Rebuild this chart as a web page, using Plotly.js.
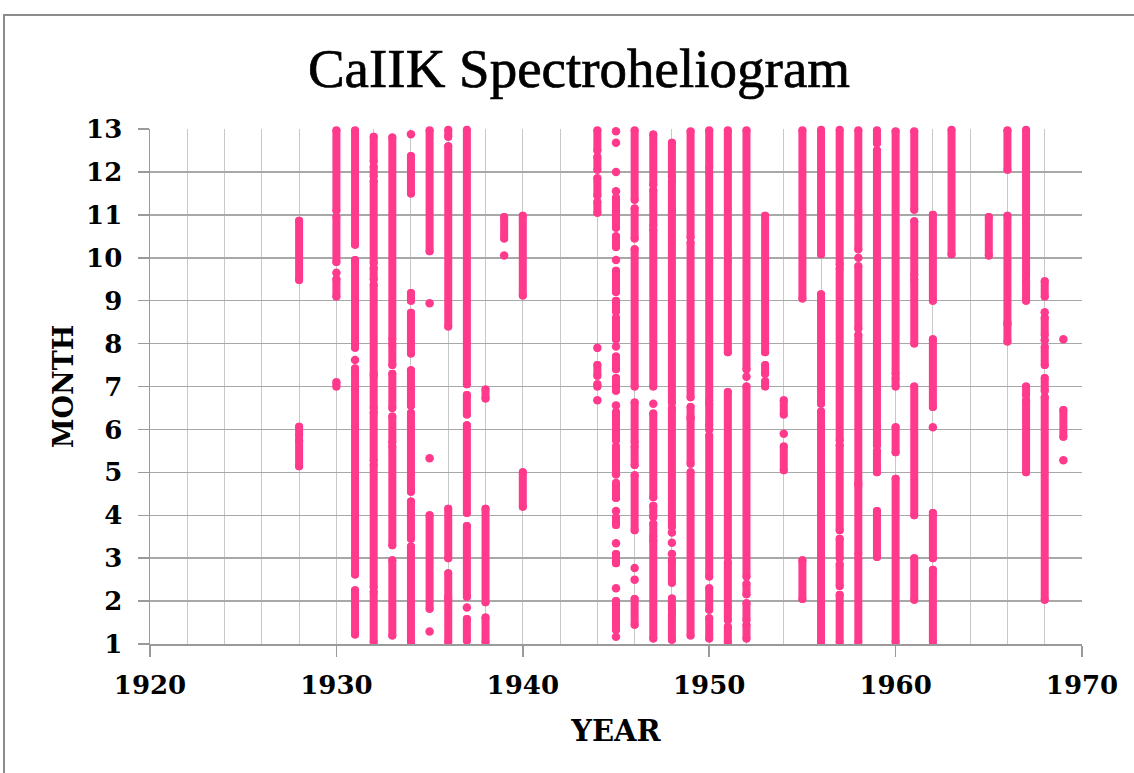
<!DOCTYPE html>
<html>
<head>
<meta charset="utf-8">
<script src="https://cdn.plot.ly/plotly-3.0.1.min.js"></script>
<style>
html, body { margin: 0; padding: 0; background: #ffffff; }
#chart { width: 1134px; height: 773px; }
.scatterlayer path.js-line { stroke-linecap: round; }
.gtitle { stroke: #000000; stroke-width: 0.7px; }
</style>
</head>
<body>
<div id="chart"></div>
<script>
// Observation coverage per year: [from, to] in month units (1 = Jan 1, 13 = end of Dec).
// Single observations are given as [v, v].
const years = [1928, 1930, 1931, 1932, 1933, 1934, 1935, 1936, 1937, 1938, 1939, 1940,
               1944, 1945, 1946, 1947, 1948, 1949, 1950, 1951, 1952, 1953, 1954, 1955,
               1956, 1957, 1958, 1959, 1960, 1961, 1962, 1963, 1965, 1966, 1967, 1968, 1969];

const y1928 = [[9.48,10.86],[5.85,6.06],[5.14,5.75]];
const y1930 = [[11.1,12.97],[9.9,10.95],[9.65,9.65],[9.1,9.5],[7.0,7.1]];
const y1931 = [[10.3,12.97],[7.9,9.95],[7.62,7.62],[2.62,7.42],[1.22,2.25]];
const y1932 = [[12.25,12.82],[11.9,12.12],[9.88,11.78],[9.5,9.76],[7.3,9.37],[6.5,7.25],[5.28,6.4],[2.33,5.18],[1.05,2.22]];
const y1933 = [[8.1,12.8],[7.5,8.0],[6.5,7.3],[5.7,6.3],[3.3,5.6],[1.2,2.95]];
const y1934 = [[12.88,12.88],[11.5,12.37],[9.0,9.18],[7.77,8.72],[6.55,7.38],[4.55,6.38],[3.45,4.32],[1.05,3.27]];
const y1935 = [[10.15,12.97],[8.94,8.94],[5.33,5.33],[1.82,4.0],[1.29,1.29]];
const y1936 = [[12.82,12.98],[8.4,12.6],[3.0,4.15],[2.1,2.65],[1.05,2.05]];
const y1937 = [[7.05,12.98],[6.35,6.8],[4.05,6.1],[2.1,3.75],[1.85,1.85],[1.08,1.58]];
const y1938 = [[6.72,6.93],[1.97,4.15],[1.05,1.62]];
const y1939 = [[10.45,10.95],[10.05,10.05]];
const y1940 = [[9.12,10.98],[4.2,5.0]];
const y1944 = [[12.5,12.97],[12.05,12.35],[11.45,11.85],[11.05,11.3],[7.9,7.9],[7.25,7.5],[7.0,7.05],[6.68,6.68]];
const y1945 = [[12.95,12.95],[12.68,12.68],[12.0,12.0],[11.55,11.55],[10.7,11.4],[10.25,10.5],[9.95,9.95],[9.2,9.7],[8.75,9.0],[8.1,8.6],[7.93,7.93],[7.4,7.7],[6.9,7.2],[6.56,6.56],[5.75,6.4],[5.05,5.6],[4.95,4.95],[4.4,4.75],[4.1,4.1],[3.77,3.95],[3.35,3.35],[2.88,3.1],[2.3,2.3],[1.33,2.0],[1.17,1.17]];
const y1946 = [[11.35,12.97],[10.45,11.15],[7.0,10.2],[5.7,6.63],[5.17,5.6],[3.65,4.93],[2.77,2.77],[2.5,2.5],[1.45,2.05]];
const y1947 = [[11.7,12.87],[10.75,11.57],[7.0,10.65],[6.6,6.6],[4.42,6.37],[3.96,4.22],[3.5,3.8],[1.13,3.42]];
const y1948 = [[11.9,12.68],[11.15,11.8],[6.63,11.1],[3.73,6.5],[3.6,3.6],[3.36,3.36],[3.1,3.1],[2.43,2.95],[1.8,2.06],[1.1,1.72]];
const y1949 = [[10.48,12.95],[6.75,10.35],[6.28,6.52],[5.2,6.25],[1.2,5.0]];
const y1950 = [[12.1,12.97],[6.67,12.0],[6.1,6.6],[6.0,6.0],[2.57,5.85],[1.8,2.3],[1.13,1.6]];
const y1951 = [[10.07,12.97],[7.8,9.95],[3.03,6.87],[1.56,2.9],[1.05,1.4]];
const y1952 = [[7.4,12.97],[7.23,7.23],[2.57,7.0],[2.16,2.4],[1.56,1.95],[1.13,1.44]];
const y1953 = [[7.8,10.98],[7.3,7.5],[7.0,7.12]];
const y1954 = [[6.35,6.68],[5.9,5.9],[5.05,5.6]];
const y1955 = [[9.05,12.97],[2.05,2.95]];
const y1956 = [[10.08,12.98],[6.6,9.15],[5.3,6.42],[1.05,5.2]];
const y1957 = [[9.84,12.98],[5.75,9.75],[3.65,5.63],[3.0,3.45],[2.35,2.85],[1.05,2.15]];
const y1958 = [[11.08,12.97],[10.2,11.0],[10.0,10.0],[8.35,9.8],[4.75,8.2],[3.1,4.7],[1.05,3.0]];
const y1959 = [[12.67,12.97],[5.63,12.5],[5.0,5.5],[3.03,4.1]];
const y1960 = [[7.3,12.95],[7.0,7.2],[5.47,6.05],[1.05,4.85]];
const y1961 = [[11.12,12.95],[9.6,10.85],[8.0,9.5],[4.0,7.0],[2.03,3.0]];
const y1962 = [[9.0,11.0],[6.52,8.1],[6.05,6.05],[3.0,4.05],[1.05,2.73]];
const y1963 = [[10.08,12.98]];
const y1965 = [[10.05,10.95]];
const y1966 = [[12.05,12.97],[8.5,10.98],[8.05,8.45]];
const y1967 = [[12.05,12.98],[10.9,11.95],[9.55,10.8],[9.0,9.45],[6.8,7.0],[5.0,6.68]];
const y1968 = [[9.1,9.45],[8.73,8.73],[8.2,8.6],[8.08,8.08],[7.5,7.92],[6.9,7.2],[2.03,6.75]];
const y1969 = [[8.1,8.1],[5.83,6.45],[5.28,5.28]];

const coverage = [y1928, y1930, y1931, y1932, y1933, y1934, y1935, y1936, y1937, y1938, y1939, y1940,
                  y1944, y1945, y1946, y1947, y1948, y1949, y1950, y1951, y1952, y1953, y1954, y1955,
                  y1956, y1957, y1958, y1959, y1960, y1961, y1962, y1963, y1965, y1966, y1967, y1968, y1969];

const xTickVals = [1920, 1930, 1940, 1950, 1960, 1970];
const yTickVals = [1,2,3,4,5,6,7,8,9,10,11,12,13];

const PINK = '#ff3a8c';

// Build traces: segments drawn as thick lines with round dots at both ends
const lx = [], ly = [], px = [], py = [];
years.forEach((yr, i) => {
  coverage[i].forEach(seg => {
    if (seg[0] === seg[1]) {
      px.push(yr); py.push(seg[0]);
    } else {
      lx.push(yr, yr, null);
      ly.push(seg[0], seg[1], null);
    }
  });
});

const traces = [
  { type: 'scatter', mode: 'lines+markers', x: lx, y: ly, connectgaps: false, cliponaxis: false,
    line: { color: PINK, width: 8 },
    marker: { color: PINK, size: 8, line: { width: 0 } },
    hoverinfo: 'skip', showlegend: false },
  { type: 'scatter', mode: 'markers', x: px, y: py, cliponaxis: false,
    marker: { color: PINK, size: 8.5, line: { width: 0 } }, hoverinfo: 'skip', showlegend: false }
];

const serif = 'Liberation Serif, Times New Roman, serif';
const tickFamily = 'DejaVu Serif, serif';

const layout = {
  width: 1134, height: 773,
  paper_bgcolor: '#ffffff', plot_bgcolor: '#ffffff',
  margin: { l: 150, r: 52, t: 129, b: 129 },
  showlegend: false,
  title: {
    text: 'CaIIK Spectroheliogram',
    font: { family: serif, size: 55, color: '#000000' },
    x: 579 / 1134, xanchor: 'center', xref: 'container',
    y: 1 - 48 / 773, yanchor: 'top', yref: 'container'
  },
  xaxis: {
    range: [1920, 1970], tickvals: xTickVals, ticktext: xTickVals.map(String),
    showgrid: true, gridcolor: '#c8c8c8', gridwidth: 1,
    minor: { dtick: 2, tick0: 1920, showgrid: true, gridcolor: '#c8c8c8', gridwidth: 1, ticks: '' },
    showline: true, linecolor: '#9a9a9a', linewidth: 1.5,
    ticks: 'outside', ticklen: 11, tickcolor: '#9a9a9a', tickwidth: 1.5,
    ticklabelstandoff: 6,
    tickfont: { family: tickFamily, size: 26, weight: 'bold', color: '#000000' },
    zeroline: false,
    title: { text: 'YEAR', standoff: 22, font: { family: tickFamily, size: 29, weight: 'bold', color: '#000000' } }
  },
  yaxis: {
    range: [1, 13], tickvals: yTickVals,
    showgrid: true, gridcolor: '#a8a8a8', gridwidth: 1.5,
    showline: true, linecolor: '#9a9a9a', linewidth: 1.5,
    ticks: 'outside', ticklen: 11, tickcolor: '#9a9a9a', tickwidth: 1.5,
    ticklabelstandoff: 10,
    tickfont: { family: tickFamily, size: 26, weight: 'bold', color: '#000000' },
    zeroline: false,
    title: { text: 'MONTH', standoff: 4, font: { family: tickFamily, size: 27, weight: 'bold', color: '#000000' } }
  },
  shapes: [
    { type: 'rect', xref: 'paper', yref: 'paper',
      x0: (4 - 150) / 932, x1: 1.2, y0: (644 - 15) / 515, y1: -0.5,
      line: { color: '#8c8c8c', width: 2 }, fillcolor: 'rgba(0,0,0,0)', layer: 'below' }
  ]
};

Plotly.newPlot('chart', traces, layout, { displayModeBar: false, staticPlot: true });
</script>
</body>
</html>
